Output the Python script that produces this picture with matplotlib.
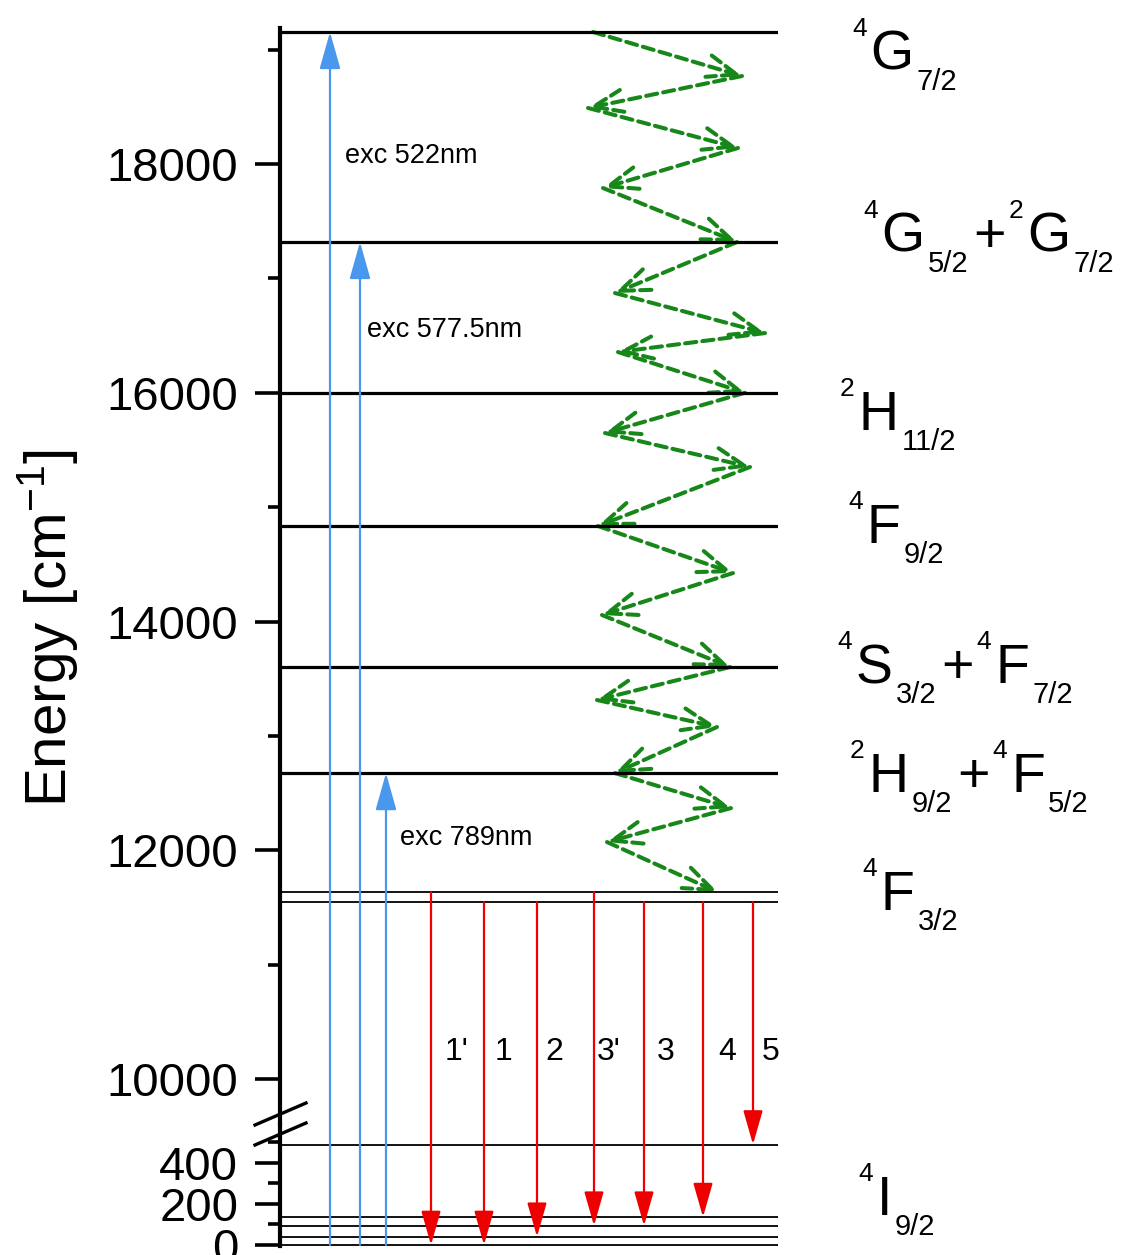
import matplotlib
matplotlib.use("Agg")
import matplotlib.pyplot as plt
from matplotlib.patches import ConnectionPatch, FancyArrowPatch, ArrowStyle
from matplotlib.lines import Line2D
from matplotlib.transforms import IdentityTransform

plt.rcParams['font.family'] = ['Liberation Sans', 'DejaVu Sans']
plt.rcParams['mathtext.fontset'] = 'custom'
plt.rcParams['mathtext.rm'] = 'Liberation Sans'
plt.rcParams['mathtext.it'] = 'Liberation Sans:italic'

W, H = 1136, 1255

# Nd3+ level energies [cm-1]
ground = [0, 40, 94, 136, 490]                  # 4I9/2 Stark components
f32 = [11545, 11633]                            # 4F3/2 doublet
upper = [12675, 13602, 14835, 16000, 17318, 19154]

# excitation (blue)
exc_names = ['exc 522nm', 'exc 577.5nm', 'exc 789nm']
exc_top = [19154, 17318, 12675]
exc_x = [50, 80, 106]
exc_text_x = [65, 87, 120]
exc_text_e = [18010, 16487, 12044]

# emission (red)
em_names = ["1'", '1', '2', "3'", '3', '4', '5']
em_from = [11633, 11545, 11545, 11633, 11545, 11545, 11545]
em_to = [0, 0, 40, 94, 94, 136, 490]
em_x = [151, 204, 257, 314, 364, 423, 473]
em_text_x = [165, 215, 265, 317, 377, 438, 482]
em_text_e = 10166

# non radiative relaxation cascade (green)
relax_e = [19154, 18769, 18490, 18140, 17790, 17318, 16872, 16522, 16356,
           16000, 15648, 15351, 14835, 14424, 14057, 13602, 13314, 13078,
           12675, 12369, 12072, 11633]
relax_x = [313, 462, 308, 458, 323, 457, 335, 485, 338, 465, 325, 470,
           318, 453, 322, 450, 317, 437, 335, 451, 327, 438]

# term symbols: (text, kind) pieces, placed at (x, baseline) in pixels
terms = [
    [('4', 'sup'), ('G', 'main'), ('7/2', 'sub')],
    [('4', 'sup'), ('G', 'main'), ('5/2', 'sub'), ('+', 'main'),
     ('2', 'sup'), ('G', 'main'), ('7/2', 'sub')],
    [('2', 'sup'), ('H', 'main'), ('11/2', 'sub')],
    [('4', 'sup'), ('F', 'main'), ('9/2', 'sub')],
    [('4', 'sup'), ('S', 'main'), ('3/2', 'sub'), ('+', 'main'),
     ('4', 'sup'), ('F', 'main'), ('7/2', 'sub')],
    [('2', 'sup'), ('H', 'main'), ('9/2', 'sub'), ('+', 'main'),
     ('4', 'sup'), ('F', 'main'), ('5/2', 'sub')],
    [('4', 'sup'), ('F', 'main'), ('3/2', 'sub')],
    [('4', 'sup'), ('I', 'main'), ('9/2', 'sub')],
]
term_pos = [(852, 70), (863, 252), (840, 430), (848, 543),
            (837, 683), (850, 792), (862, 910), (858, 1215)]

fig = plt.figure(figsize=(W / 100, H / 100), dpi=100)
ax = fig.add_axes([280 / W, 1 - 1124 / H, 498 / W, (1124 - 28) / H])
ax_lo = fig.add_axes([280 / W, 1 - 1246 / H, 498 / W, (1246 - 1124) / H])

for a in (ax, ax_lo):
    a.set_xlim(0, 498)
    for s in ('top', 'right', 'bottom'):
        a.spines[s].set_visible(False)
    a.spines['left'].set_linewidth(3)
    a.tick_params(axis='y', which='major', length=18, width=2.6,
                  labelsize=34, pad=12)
    a.tick_params(axis='y', which='minor', length=9, width=2.6)
    a.tick_params(axis='x', bottom=False, labelbottom=False)
    a.patch.set_alpha(0)

ax.set_ylim(9607, 19189)
ax.set_yticks(range(10000, 19000, 2000))
ax.set_yticks(range(11000, 20000, 2000), minor=True)
ax_lo.set_ylim(-5, 590)
ax_lo.set_yticks([0, 200, 400])
ax_lo.set_yticks([100, 300, 500], minor=True)

# energy levels
ax.hlines(upper, 0, 498, color='k', lw=2.3)
ax.hlines(f32, 0, 498, color='k', lw=1.3)
ax_lo.hlines(ground, 0, 498, color='k', lw=1.3, clip_on=False)

# excitation arrows
for name, top, x, tx, te in zip(exc_names, exc_top, exc_x, exc_text_x, exc_text_e):
    cp = ConnectionPatch(xyA=(x, 0), coordsA=ax_lo.transData,
                         xyB=(x, top), coordsB=ax.transData,
                         arrowstyle=ArrowStyle('-|>', head_length=23, head_width=6.5),
                         mutation_scale=1, color='#4a98ee', lw=1.6)
    fig.add_artist(cp)
    ax.text(tx, te, name, fontsize=19.5, ha='left', va='baseline')

# emission arrows
for name, e0, e1, x, tx in zip(em_names, em_from, em_to, em_x, em_text_x):
    cp = ConnectionPatch(xyA=(x, e0), coordsA=ax.transData,
                         xyB=(x, e1), coordsB=ax_lo.transData,
                         arrowstyle=ArrowStyle('-|>', head_length=21, head_width=6),
                         mutation_scale=1, color='#ee0000', lw=1.6)
    fig.add_artist(cp)
    ax.text(tx, em_text_e, name, fontsize=23, ha='left', va='baseline')

# relaxation cascade
for i in range(len(relax_e) - 1):
    arr = FancyArrowPatch((relax_x[i], relax_e[i]), (relax_x[i + 1], relax_e[i + 1]),
                          arrowstyle=ArrowStyle('->', head_length=21, head_width=8),
                          mutation_scale=1, color='#17871a', lw=2.9,
                          linestyle=(0, (2.8, 1.5)), shrinkA=0, shrinkB=0)
    ax.add_patch(arr)

# axis break marks
for dy in (-10, 10):
    yc = 1124 + dy
    fig.add_artist(Line2D([255 / W, 306 / W],
                          [1 - (yc + 11) / H, 1 - (yc - 11) / H],
                          transform=fig.transFigure, color='k', lw=2.4))

fig.text(48 / W, 1 - 628 / H, 'Energy [cm$^{-1}$]', rotation=90,
         fontsize=42, ha='center', va='center')

# term labels
style = {'sup': (19, 34, 4), 'main': (40, 0, 3), 'sub': (21, -20, 5)}
renderer = fig.canvas.get_renderer()
for parts, (x0, y0) in zip(terms, term_pos):
    x = x0
    for s, kind in parts:
        size, rise, gap = style[kind]
        t = fig.text(x, H - y0 + rise, s, fontsize=size, ha='left',
                     va='baseline', transform=IdentityTransform())
        x += t.get_window_extent(renderer).width + gap

fig.savefig('out.png', dpi=100)
